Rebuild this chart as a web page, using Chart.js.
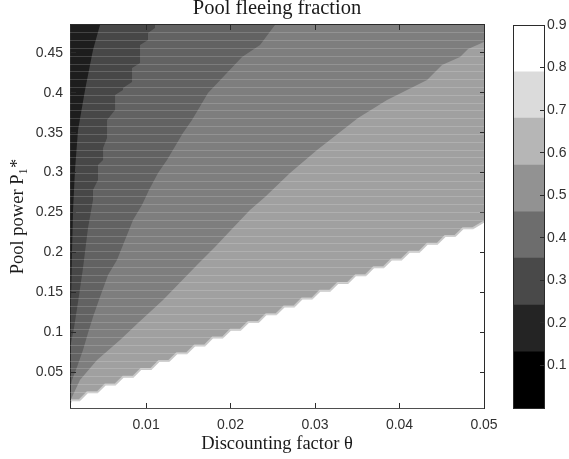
<!DOCTYPE html>
<html>
<head>
<meta charset="utf-8">
<script src="https://cdn.jsdelivr.net/npm/chart.js@4.4.0/dist/chart.umd.min.js"></script>
<style>
html, body { margin: 0; padding: 0; background: #fff; }
#wrap { position: relative; width: 569px; height: 459px; }
#wrap canvas { position: absolute; left: 0; top: 0; }
</style>
</head>
<body>
<div id="wrap">
<canvas id="contour" width="569" height="459"></canvas>
<canvas id="colorbar" width="569" height="459"></canvas>
</div>
<script>
let thetaRange = [0.001, 0.05];
let powerRange = [0.005, 0.485];
let thetaTicks = [0.01, 0.02, 0.03, 0.04, 0.05];
let powerTicks = [0.05, 0.1, 0.15, 0.2, 0.25, 0.3, 0.35, 0.4, 0.45];
let gridRows = 50;

// contour edges as [theta, P], darkest band first
let edge1 = [[0.0010, 0.0902], [0.00112, 0.1403], [0.00124, 0.2030], [0.00136, 0.2531],
  [0.00159, 0.3033], [0.00195, 0.3534], [0.00278, 0.4035], [0.00372, 0.4537], [0.00455, 0.485]];
let edge2 = [[0.0010, 0.0802], [0.00147, 0.1053], [0.00195, 0.1378], [0.00254, 0.1805],
  [0.00313, 0.2306], [0.00372, 0.2657], [0.00372, 0.2782], [0.00431, 0.2907], [0.00431, 0.3095],
  [0.00491, 0.3158], [0.00491, 0.3308], [0.00538, 0.3434], [0.00538, 0.3659], [0.00633, 0.3785],
  [0.00633, 0.3973], [0.00727, 0.4035], [0.00727, 0.4060], [0.00834, 0.4136], [0.00834, 0.4311],
  [0.00929, 0.4374], [0.00929, 0.4599], [0.01023, 0.4662], [0.01023, 0.4750], [0.01106, 0.4812],
  [0.01106, 0.485]];
let edge3 = [[0.0010, 0.0276], [0.00124, 0.0401], [0.00183, 0.0564], [0.00254, 0.0777],
  [0.00313, 0.0990], [0.00372, 0.1190], [0.00455, 0.1441], [0.00550, 0.1717], [0.00656, 0.1905],
  [0.00751, 0.2155], [0.00846, 0.2406], [0.00952, 0.2594], [0.01035, 0.2782], [0.01142, 0.2995],
  [0.01248, 0.3158], [0.01437, 0.3496], [0.01544, 0.3659], [0.01733, 0.3998], [0.02136, 0.4449],
  [0.02349, 0.4599], [0.02526, 0.485]];
let edge4 = [[0.0010, 0.0138], [0.00124, 0.0188], [0.00218, 0.0401], [0.00420, 0.0651],
  [0.00692, 0.0902], [0.00905, 0.1115], [0.01201, 0.1403], [0.01603, 0.1842], [0.01816, 0.2068],
  [0.01994, 0.2268], [0.02230, 0.2531], [0.02408, 0.2694], [0.02704, 0.2995], [0.03024, 0.3283],
  [0.03509, 0.3684], [0.03852, 0.3910], [0.04326, 0.4161], [0.04503, 0.4349], [0.04716, 0.4449],
  [0.04811, 0.4549], [0.0500, 0.4637]];
let edge5 = [[0.0010, 0.0110], [0.00115, 0.0148], [0.00212, 0.0148],
  [0.00305, 0.0246], [0.00423, 0.0246], [0.00517, 0.0344], [0.00635, 0.0344],
  [0.00729, 0.0442], [0.00847, 0.0442], [0.00940, 0.0540], [0.01059, 0.0540],
  [0.01152, 0.0638], [0.01270, 0.0638], [0.01364, 0.0736], [0.01482, 0.0736],
  [0.01575, 0.0834], [0.01694, 0.0834], [0.01787, 0.0932], [0.01905, 0.0932],
  [0.01999, 0.1030], [0.02117, 0.1030], [0.02211, 0.1128], [0.02329, 0.1128],
  [0.02422, 0.1226], [0.02540, 0.1226], [0.02634, 0.1323], [0.02752, 0.1323],
  [0.02846, 0.1421], [0.02964, 0.1421], [0.03057, 0.1519], [0.03176, 0.1519],
  [0.03269, 0.1617], [0.03387, 0.1617], [0.03481, 0.1715], [0.03599, 0.1715],
  [0.03693, 0.1813], [0.03811, 0.1813], [0.03904, 0.1911], [0.04022, 0.1911],
  [0.04116, 0.2009], [0.04234, 0.2009], [0.04328, 0.2107], [0.04446, 0.2107],
  [0.04539, 0.2205], [0.04657, 0.2205], [0.04751, 0.2303], [0.04869, 0.2303],
  [0.0500, 0.2385]];
let edges = [edge1, edge2, edge3, edge4, edge5];
let bandColors = ['#1d1d1d', '#474747', '#626262', '#7e7e7e', '#a0a0a0'];

// colorbar
let levels = [0, 0.132, 0.242, 0.352, 0.461, 0.571, 0.681, 0.79, 0.9];
let levelColors = ['#000000', '#242424', '#494949', '#6d6d6d', '#929292', '#b6b6b6', '#dbdbdb', '#ffffff'];
let barTicks = [0.1, 0.2, 0.3, 0.4, 0.5, 0.6, 0.7, 0.8, 0.9];

let axisColor = '#2b2b2b';
let tickFont = { family: 'Liberation Sans', size: 14 };
let serif = 'Liberation Serif';

let datasets = edges.map((pts, i) => ({
  data: pts.map(p => ({ x: p[0], y: p[1] })),
  fill: 'end',
  backgroundColor: bandColors[i],
  borderColor: i == edges.length - 1 ? '#c8c8c8' : 'rgba(0,0,0,0)',
  borderWidth: i == edges.length - 1 ? 2 : 0,
  pointRadius: 0,
  tension: 0,
  xAxisID: 'x',
  yAxisID: 'y'
}));

let plain = {
  ticks: { display: false },
  grid: { display: false },
  border: { color: axisColor, z: 1 }
};

new Chart(document.getElementById('contour'), {
  type: 'line',
  data: { datasets: datasets },
  options: {
    responsive: false,
    animation: false,
    events: [],
    layout: { padding: { left: 0, right: 85, top: 0, bottom: 0 } },
    plugins: {
      legend: { display: false },
      tooltip: { enabled: false },
      title: {
        display: true,
        text: 'Pool fleeing fraction',
        fullSize: false,
        color: '#1a1a1a',
        font: { family: serif, size: 20.5, weight: 'normal', lineHeight: 0.878 },
        padding: { top: 0, bottom: 7 }
      }
    },
    scales: {
      x: {
        type: 'linear',
        position: 'bottom',
        min: thetaRange[0],
        max: thetaRange[1],
        afterBuildTicks: s => { s.ticks = thetaTicks.map(v => ({ value: v })); },
        afterFit: s => { s.height = 51; },
        ticks: { callback: v => String(v), font: tickFont, color: '#303030', padding: 9, maxRotation: 0, autoSkip: false },
        grid: { color: axisColor, drawTicks: false, z: 1 },
        border: { color: axisColor, dash: [5, 373], z: 1 },
        title: {
          display: true,
          text: 'Discounting factor \u03b8',
          color: '#1a1a1a',
          font: { family: serif, size: 18.5 },
          padding: { top: 0, bottom: 4 }
        }
      },
      y: {
        type: 'linear',
        position: 'left',
        min: powerRange[0],
        max: powerRange[1],
        afterBuildTicks: s => { s.ticks = powerTicks.map(v => ({ value: v })); },
        afterFit: s => { s.width = 70; },
        ticks: { callback: v => String(v), font: tickFont, color: '#303030', padding: 7, autoSkip: false },
        grid: { color: axisColor, drawTicks: false, z: 1 },
        border: { color: axisColor, dash: [5, 404], z: 1 },
        title: {
          display: true,
          text: 'Pool power P\u2081*',
          color: '#1a1a1a',
          font: { family: serif, size: 18.5 },
          padding: { top: 7, bottom: 0 }
        }
      },
      rows: {
        type: 'linear',
        position: 'left',
        min: powerRange[0],
        max: powerRange[1],
        afterFit: s => { s.width = 0; },
        ticks: { display: false, count: gridRows },
        grid: { color: 'rgba(255,255,255,0.17)', drawTicks: false, z: 1 },
        border: { display: false }
      },
      xTop: Object.assign({
        type: 'linear', position: 'top', min: thetaRange[0], max: thetaRange[1],
        afterFit: s => { s.height = 0; }
      }, plain),
      yRight: Object.assign({
        type: 'linear', position: 'right', min: powerRange[0], max: powerRange[1],
        afterFit: s => { s.width = 0; }
      }, plain)
    }
  }
});

new Chart(document.getElementById('colorbar'), {
  type: 'bar',
  data: {
    labels: ['fraction'],
    datasets: levelColors.map((c, i) => ({
      data: [[levels[i], levels[i + 1]]],
      backgroundColor: c,
      borderWidth: 0,
      barPercentage: 1,
      categoryPercentage: 1,
      grouped: false,
      xAxisID: 'x',
      yAxisID: 'y'
    }))
  },
  options: {
    responsive: false,
    animation: false,
    events: [],
    layout: { padding: { left: 513, right: 0, top: 25, bottom: 51 } },
    plugins: { legend: { display: false }, tooltip: { enabled: false } },
    scales: {
      x: Object.assign({ type: 'category', position: 'bottom', afterFit: s => { s.height = 0; } }, plain),
      xTop: Object.assign({ type: 'category', position: 'top', afterFit: s => { s.height = 0; } }, plain),
      y: {
        type: 'linear',
        position: 'right',
        min: levels[0],
        max: levels[levels.length - 1],
        afterBuildTicks: s => { s.ticks = barTicks.map(v => ({ value: v })); },
        afterFit: s => { s.width = 25; },
        ticks: { callback: v => String(v), font: tickFont, color: '#303030', padding: 3, autoSkip: false },
        grid: { color: axisColor, drawTicks: false, z: 1 },
        border: { color: axisColor, dash: [4, 27], dashOffset: 4, z: 1 }
      },
      yLeft: Object.assign({
        type: 'linear', position: 'left', min: levels[0], max: levels[levels.length - 1],
        afterFit: s => { s.width = 0; }
      }, plain)
    }
  }
});
</script>
</body>
</html>
